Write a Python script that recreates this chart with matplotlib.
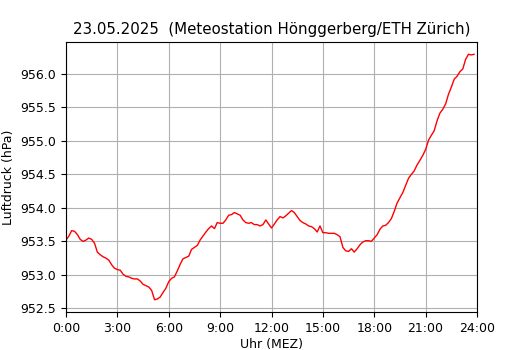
import numpy as np
import matplotlib
matplotlib.use("Agg")
import matplotlib.pyplot as plt

# ========== DATA ==========
hours = [0.0, 0.17, 0.33, 0.5, 0.67, 0.83, 1.0, 1.17, 1.33, 1.5, 1.67, 1.83,
         2.0, 2.17, 2.33, 2.5, 2.67, 2.83, 3.0, 3.17, 3.33, 3.5, 3.67, 3.83,
         4.0, 4.17, 4.33, 4.5, 4.67, 4.83, 5.0, 5.17, 5.33, 5.5, 5.67, 5.83,
         6.0, 6.17, 6.33, 6.5, 6.67, 6.83, 7.0, 7.17, 7.33, 7.5, 7.67, 7.83,
         8.0, 8.17, 8.33, 8.5, 8.67, 8.83, 9.0, 9.17, 9.33, 9.5, 9.67, 9.83,
         10.0, 10.17, 10.33, 10.5, 10.67, 10.83, 11.0, 11.17, 11.33, 11.5, 11.67, 11.83,
         12.0, 12.17, 12.33, 12.5, 12.67, 12.83, 13.0, 13.17, 13.33, 13.5, 13.67, 13.83,
         14.0, 14.17, 14.33, 14.5, 14.67, 14.83, 15.0, 15.17, 15.33, 15.5, 15.67, 15.83,
         16.0, 16.17, 16.33, 16.5, 16.67, 16.83, 17.0, 17.17, 17.33, 17.5, 17.67, 17.83,
         18.0, 18.17, 18.33, 18.5, 18.67, 18.83, 19.0, 19.17, 19.33, 19.5, 19.67, 19.83,
         20.0, 20.17, 20.33, 20.5, 20.67, 20.83, 21.0, 21.17, 21.33, 21.5, 21.67, 21.83,
         22.0, 22.17, 22.33, 22.5, 22.67, 22.83, 23.0, 23.17, 23.33, 23.5, 23.67, 23.83]

pressure = [953.52, 953.58, 953.66, 953.65, 953.60, 953.53, 953.50, 953.52, 953.55, 953.53, 953.47, 953.34,
            953.30, 953.27, 953.25, 953.22, 953.15, 953.10, 953.08, 953.07, 953.01, 952.98, 952.97, 952.95,
            952.94, 952.94, 952.91, 952.86, 952.84, 952.82, 952.77, 952.63, 952.64, 952.67, 952.74, 952.80,
            952.90, 952.95, 952.97, 953.06, 953.16, 953.24, 953.26, 953.28, 953.38, 953.41, 953.44, 953.52,
            953.58, 953.64, 953.69, 953.73, 953.69, 953.78, 953.77, 953.77, 953.82, 953.89, 953.90, 953.93,
            953.91, 953.89, 953.82, 953.78, 953.77, 953.78, 953.75, 953.75, 953.73, 953.75, 953.82, 953.76,
            953.70, 953.76, 953.82, 953.87, 953.85, 953.88, 953.92, 953.96, 953.93, 953.87, 953.81, 953.78,
            953.76, 953.73, 953.72, 953.69, 953.64, 953.73, 953.63, 953.63, 953.62, 953.62, 953.62, 953.60,
            953.57, 953.41, 953.36, 953.35, 953.39, 953.34, 953.39, 953.45, 953.49, 953.51, 953.51, 953.50,
            953.55, 953.60, 953.68, 953.73, 953.74, 953.78, 953.84, 953.95, 954.07, 954.15, 954.23, 954.33,
            954.44, 954.50, 954.55, 954.64, 954.71, 954.78, 954.87, 955.01, 955.08, 955.15, 955.30, 955.41,
            955.47, 955.55, 955.69, 955.80, 955.92, 955.96, 956.03, 956.07, 956.21, 956.29, 956.28, 956.29]

xticks = [0, 3, 6, 9, 12, 15, 18, 21, 24]
xtick_labels = ["0:00", "3:00", "6:00", "9:00", "12:00", "15:00", "18:00", "21:00", "24:00"]

# ========== PLOT ==========
fig = plt.figure(figsize=(5.3, 3.5), dpi=100)
ax = fig.add_axes([66 / 530, 1 - 312 / 350, (477 - 66) / 530, (312 - 42) / 350])

ax.plot(hours, pressure, color="red", linewidth=1.0)
ax.set_xlim(0, 24)
ax.set_xticks(xticks)
ax.set_xticklabels(xtick_labels)
ax.set_yticks(np.arange(952.5, 956.01, 0.5))
ax.yaxis.set_major_formatter(matplotlib.ticker.FormatStrFormatter("%.1f"))
ax.tick_params(labelsize=9)
ax.grid(True, color="#b0b0b0", linewidth=0.8)

ax.set_xlabel("Uhr (MEZ)", fontsize=9, labelpad=2.5)
ax.set_ylabel("Luftdruck (hPa)", fontsize=9)
ax.set_title("23.05.2025  (Meteostation Hönggerberg/ETH Zürich)", fontsize=10.85)

fig.savefig("out.png", dpi=100)
